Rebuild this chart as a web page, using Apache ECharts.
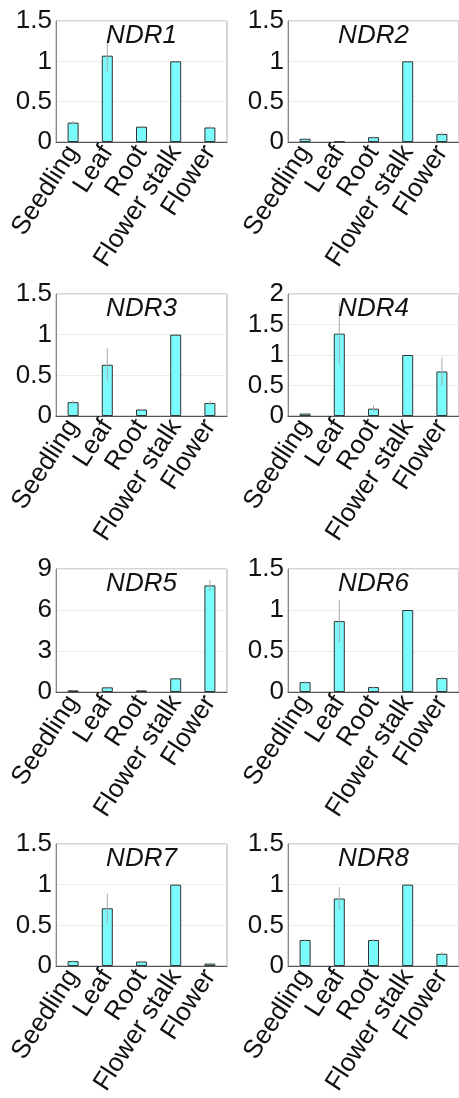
<!DOCTYPE html>
<html>
<head>
<meta charset="utf-8">
<script src="https://cdn.jsdelivr.net/npm/echarts@6/dist/echarts.min.js"></script>
<style>
html,body{margin:0;padding:0;background:#fff;}
#chart{width:459px;height:1098px;}
</style>
</head>
<body>
<div id="chart"></div>
<script>
const categories = ['Seedling', 'Leaf', 'Root', 'Flower stalk', 'Flower'];
const genes = ['NDR1', 'NDR2', 'NDR3', 'NDR4', 'NDR5', 'NDR6', 'NDR7', 'NDR8'];

const ndr1 = [0.24, 1.07, 0.19, 1.0, 0.18];
const ndr1Err = [0.02, 0.2, 0.01, 0, 0.02];
const ndr2 = [0.04, 0.005, 0.06, 1.0, 0.10];
const ndr2Err = [0.01, 0, 0.01, 0, 0.02];
const ndr3 = [0.17, 0.63, 0.08, 1.0, 0.16];
const ndr3Err = [0.02, 0.2, 0.01, 0, 0.03];
const ndr4 = [0.04, 1.35, 0.12, 1.0, 0.73];
const ndr4Err = [0.01, 0.5, 0.05, 0, 0.23];
const ndr5 = [0.12, 0.34, 0.12, 1.0, 7.8];
const ndr5Err = [0.02, 0.1, 0.02, 0, 0.4];
const ndr6 = [0.12, 0.865, 0.06, 1.0, 0.17];
const ndr6Err = [0.01, 0.26, 0.01, 0, 0.02];
const ndr7 = [0.06, 0.71, 0.055, 1.0, 0.03];
const ndr7Err = [0.01, 0.18, 0.01, 0, 0.01];
const ndr8 = [0.32, 0.83, 0.32, 1.0, 0.15];
const ndr8Err = [0.01, 0.14, 0.01, 0, 0.02];

const yMax = [1.5, 1.5, 1.5, 2, 9, 1.5, 1.5, 1.5];
const yInterval = [0.5, 0.5, 0.5, 0.5, 3, 0.5, 0.5, 0.5];

const values = [ndr1, ndr2, ndr3, ndr4, ndr5, ndr6, ndr7, ndr8];
const errors = [ndr1Err, ndr2Err, ndr3Err, ndr4Err, ndr5Err, ndr6Err, ndr7Err, ndr8Err];

// layout
const colLeft = [56, 288];
const colWidth = [171, 171];
const rowTop = [21, 294, 569, 844];
const rowHeight = [121, 122, 123, 122];

const FONT = 'Liberation Sans, Arial, sans-serif';
const grids = [], xAxes = [], yAxes = [], series = [], graphics = [];

for (let i = 0; i < 8; i++) {
  const r = Math.floor(i / 2), c = i % 2;
  grids.push({
    left: colLeft[c], top: rowTop[r], width: colWidth[c], height: rowHeight[r],
    show: true, borderColor: '#aaaaaa', borderWidth: 1, backgroundColor: 'transparent'
  });
  xAxes.push({
    type: 'category', gridIndex: i, data: categories,
    axisLine: { show: true, lineStyle: { color: '#555', width: 1 } },
    axisTick: { show: false },
    axisLabel: { interval: 0, rotate: 57, margin: 6, fontSize: 26, color: '#111', fontFamily: FONT },
    splitLine: { show: false }
  });
  yAxes.push({
    type: 'value', gridIndex: i, min: 0, max: yMax[i], interval: yInterval[i],
    axisLine: { show: true, lineStyle: { color: '#888', width: 1 } },
    axisTick: { show: false },
    axisLabel: { margin: 4, fontSize: 26, color: '#111', fontFamily: FONT },
    splitLine: { show: true, lineStyle: { color: '#ececec', width: 1 } }
  });
  series.push({
    type: 'bar', xAxisIndex: i, yAxisIndex: i, data: values[i], barWidth: 11,
    itemStyle: { color: '#7afcfc', borderColor: '#333', borderWidth: 1 },
    z: 2
  });
  series.push({
    type: 'custom', xAxisIndex: i, yAxisIndex: i, z: 3,
    data: values[i].map((v, k) => [k, v, errors[i][k]]),
    encode: { x: 0, y: 1 },
    renderItem: function (params, api) {
      const k = api.value(0), m = api.value(1), e = api.value(2);
      if (!e) return null;
      const p1 = api.coord([k, m - e]);
      const p2 = api.coord([k, m + e]);
      return {
        type: 'line',
        shape: { x1: p1[0], y1: p1[1], x2: p2[0], y2: p2[1] },
        style: { stroke: '#aaa', lineWidth: 1 }
      };
    }
  });
  graphics.push({
    type: 'text',
    x: colLeft[c] + colWidth[c] / 2,
    y: rowTop[r] + 2,
    style: {
      text: genes[i], textAlign: 'center', textVerticalAlign: 'top',
      font: 'italic 26px ' + FONT, fill: '#111'
    },
    z: 10
  });
}

const chart = echarts.init(document.getElementById('chart'), null, { renderer: 'canvas' });
chart.setOption({
  animation: false,
  backgroundColor: '#ffffff',
  grid: grids, xAxis: xAxes, yAxis: yAxes, series: series, graphic: graphics
});
</script>
</body>
</html>
